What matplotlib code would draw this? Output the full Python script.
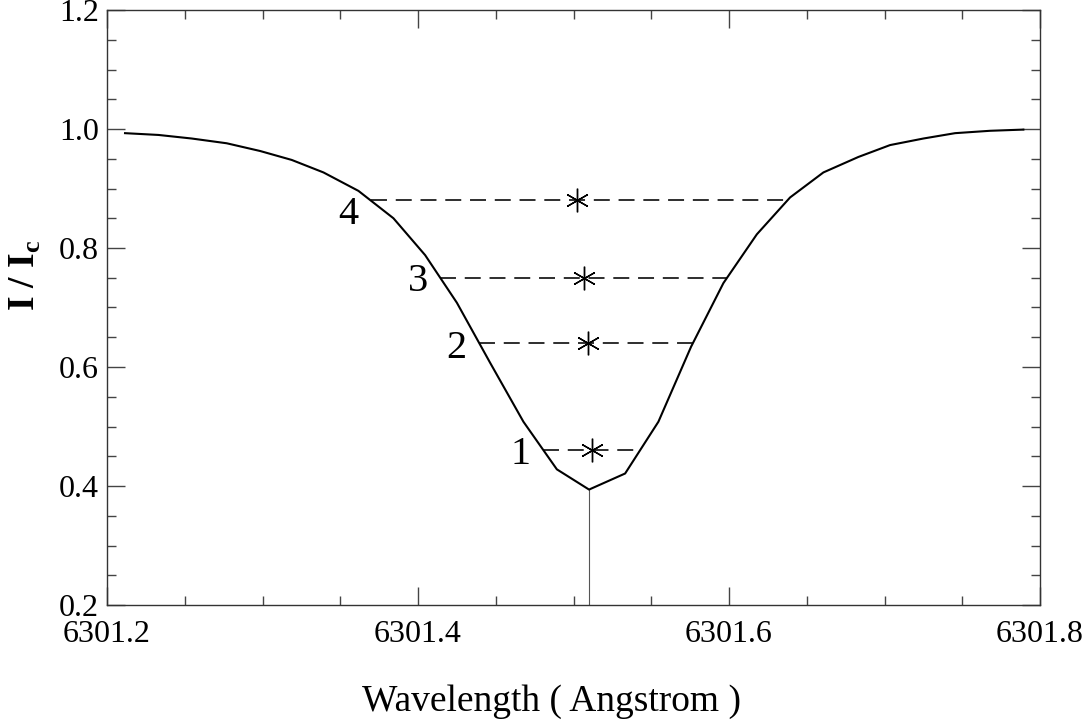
import numpy as np
import matplotlib
matplotlib.use("Agg")
import matplotlib.pyplot as plt
from matplotlib.ticker import MultipleLocator, FixedLocator
from matplotlib.transforms import offset_copy

# Fe I 6301.5 line profile (normalised intensity) and bisector levels
wavelength = [6301.2116, 6301.2331, 6301.2545, 6301.2770, 6301.2985, 6301.3188,
              6301.3392, 6301.3617, 6301.3842, 6301.4046, 6301.4250, 6301.4464,
              6301.4678, 6301.4893, 6301.5100, 6301.5332, 6301.5546, 6301.5756,
              6301.5964, 6301.6179, 6301.6393, 6301.6607, 6301.6832, 6301.7036,
              6301.7250, 6301.7454, 6301.7679, 6301.7893]
intensity = [0.993, 0.990, 0.984, 0.976, 0.963, 0.948,
             0.927, 0.896, 0.850, 0.788, 0.708, 0.607,
             0.508, 0.428, 0.394, 0.421, 0.508, 0.634,
             0.741, 0.823, 0.885, 0.927, 0.953, 0.973,
             0.984, 0.993, 0.997, 0.999]

levels = [0.46, 0.64, 0.75, 0.88]
level_names = ["1", "2", "3", "4"]
bisector_wl = [6301.5121, 6301.5091, 6301.5070, 6301.5023]

line_centre = 6301.5100

x_ticks = [6301.2, 6301.4, 6301.6, 6301.8]
y_ticks = [0.2, 0.4, 0.6, 0.8, 1.0, 1.2]

plt.rcParams["font.family"] = ["Liberation Serif", "DejaVu Serif"]
plt.rcParams["mathtext.fontset"] = "custom"
plt.rcParams["mathtext.rm"] = "Liberation Serif"
plt.rcParams["mathtext.bf"] = "Liberation Serif:bold"

fig = plt.figure(figsize=(10.88, 7.27), dpi=100)
ax = fig.add_axes([107 / 1088, 1 - 605 / 727, 933 / 1088, 595 / 727])

wl = np.asarray(wavelength)
it = np.asarray(intensity)
imin = int(np.argmin(it))

# profile
ax.plot(wl, it, color="black", lw=1.5, zorder=3)

# line-centre marker from the axis up to the profile minimum
ax.plot([line_centre, line_centre], [0.2, it[imin]], color="#555555", lw=0.8, zorder=2)

# bisector chords, asterisks and level numbers
blue_wl, blue_it = wl[:imin + 1], it[:imin + 1]
red_wl, red_it = wl[imin:], it[imin:]
label_dy = [-3, -4, -3, -10]   # vertical nudge of each level number (points)
for lev, name, bx, dy in zip(levels, level_names, bisector_wl, label_dy):
    x_left = np.interp(lev, blue_it[::-1], blue_wl[::-1])
    x_right = np.interp(lev, red_it, red_wl)
    ax.plot([x_left, x_right], [lev, lev], color="black", lw=1.15,
            dashes=(10, 5.5), zorder=2)
    ax.plot([bx], [lev], linestyle="none", marker=(6, 2, 0), markersize=17,
            markeredgewidth=1.0, color="black", zorder=4)
    tr = offset_copy(ax.transData, fig=fig, x=-9, y=dy, units="points")
    ax.text(x_left, lev, name, transform=tr, ha="right", va="center",
            fontsize=29, color="black")

ax.set_xlim(6301.2, 6301.8)
ax.set_ylim(0.2, 1.2)
ax.xaxis.set_major_locator(FixedLocator(x_ticks))
ax.yaxis.set_major_locator(FixedLocator(y_ticks))
ax.xaxis.set_minor_locator(MultipleLocator(0.05))
ax.yaxis.set_minor_locator(MultipleLocator(0.05))
ax.set_xticklabels([f"{v:.1f}" for v in x_ticks])
ax.set_yticklabels([f"{v:.1f}" for v in y_ticks])

ax.tick_params(which="both", direction="in", top=True, right=True,
               color="#444444", width=1.0)
ax.tick_params(which="major", length=13)
ax.tick_params(which="minor", length=6.5)
ax.tick_params(axis="x", which="major", labelsize=23, pad=11)
ax.tick_params(axis="y", which="major", labelsize=23, pad=6)

for sp in ax.spines.values():
    sp.set_color("#333333")
    sp.set_linewidth(1.0)

ax.set_xlabel("Wavelength ( Angstrom )", fontsize=27)
ax.xaxis.label.set_va("center")
ax.xaxis.set_label_coords(0.4764, -0.162)

ax.set_ylabel(r"I / I$_\mathbf{c}$", fontsize=27, fontweight="bold")
ax.yaxis.label.set_va("center")
ax.yaxis.set_label_coords(-0.087, 0.555)

fig.savefig("out.png", dpi=100)
